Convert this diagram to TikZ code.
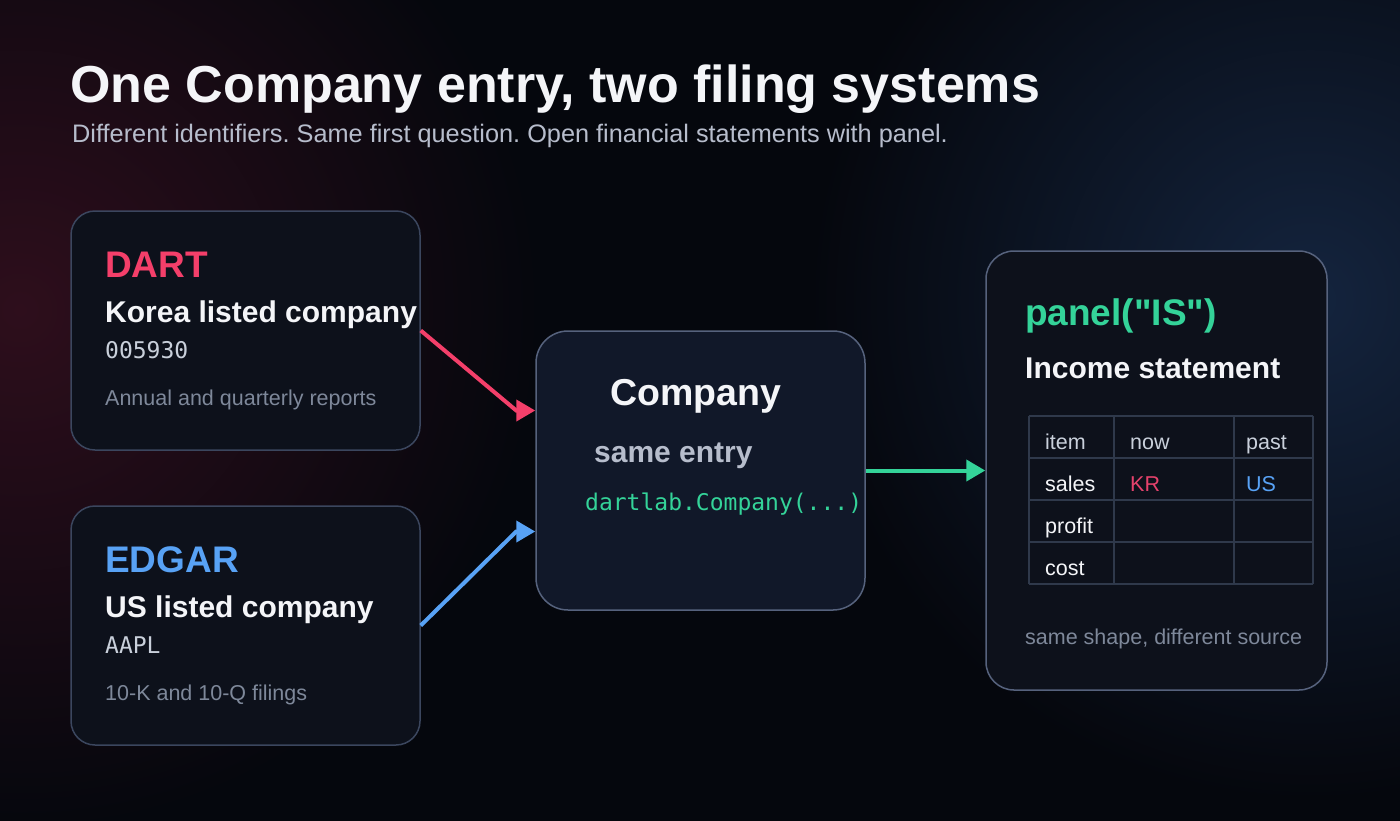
\documentclass[tikz,border=0pt]{standalone}
\usepackage{fontspec}
\setmainfont{Liberation Sans}
\setmonofont{DejaVu Sans Mono}
\usetikzlibrary{arrows.meta,positioning}

\definecolor{bgdark}{HTML}{05070D}
\definecolor{glowred}{HTML}{2E0E1C}
\definecolor{glowblue}{HTML}{14243E}
\definecolor{cardfill}{HTML}{0D111B}
\definecolor{hubfill}{HTML}{111829}
\definecolor{cardline}{HTML}{3B465E}
\definecolor{hubline}{HTML}{56627D}
\definecolor{gridc}{HTML}{2F394B}
\definecolor{dartc}{HTML}{F43F6A}
\definecolor{krc}{HTML}{E5426C}
\definecolor{edgarc}{HTML}{58A2F5}
\definecolor{codec}{HTML}{34D399}
\definecolor{headc}{HTML}{F4F5F8}
\definecolor{subc}{HTML}{B7BDCC}
\definecolor{idc}{HTML}{C9D0DB}
\definecolor{mutedc}{HTML}{7E889A}

\newcommand\pxsize[1]{\fontsize{#1}{#1}\selectfont}

\tikzset{
  card/.style={draw=cardline, line width=1.5pt, fill=cardfill, rounded corners=24pt,
    minimum width=349pt, minimum height=239pt, inner sep=0pt},
  hub/.style={draw=hubline, line width=1.5pt, fill=hubfill, rounded corners=32pt,
    minimum width=329pt, minimum height=279pt, inner sep=0pt},
  panelbox/.style={draw=hubline, line width=1.5pt, fill=cardfill, rounded corners=28pt,
    minimum width=341pt, minimum height=439pt, inner sep=0pt},
  txt/.style={anchor=base west, inner sep=0pt},
  tag/.style={txt, font=\pxsize{37}\bfseries},
  kind/.style={txt, font=\pxsize{30}\bfseries, text=headc},
  ident/.style={txt, font=\pxsize{23}\ttfamily, text=idc},
  note/.style={txt, font=\pxsize{21.5}, text=mutedc},
  cell/.style={txt, font=\pxsize{21.5}},
  flow/.style={line width=4pt, -{Triangle[length=19pt,width=21pt]}},
}

\begin{document}
\frenchspacing
\begin{tikzpicture}[x=1pt,y=-1pt]
\useasboundingbox (0,0) rectangle (1400,820);
% backdrop and soft glows
\begin{scope}
\clip (-6,-6) rectangle (1406,826);
\fill[bgdark] (-6,-6) rectangle (1406,826);
\shade[inner color=glowred, outer color=bgdark] (20,310) circle (520);
\shade[inner color=glowblue, outer color=bgdark] (1310,300) circle (500);
\end{scope}

% heading
\node[txt, font=\pxsize{52}\bfseries, text=headc] (title) at (70,102) {One Company entry, two filing systems};
\node[txt, font=\pxsize{25.3}, text=subc] (subtitle) at (72,142) {Different identifiers. Same first question. Open financial statements with panel.};

% source cards
\node[card] (dart) at (245.5,330.5) {};
\node[tag, text=dartc] (dartTag) at (105,277) {DART};
\node[kind] (dartKind) at (105,322) {Korea listed company};
\node[ident] (dartId) at (105,358) {005930};
\node[note] (dartNote) at (105,405) {Annual and quarterly reports};

\node[card] (edgar) at (245.5,625.5) {};
\node[tag, text=edgarc] (edgarTag) at (105,572) {EDGAR};
\node[kind] (edgarKind) at (105,617) {US listed company};
\node[ident] (edgarId) at (105,653) {AAPL};
\node[note] (edgarNote) at (105,700) {10-K and 10-Q filings};

% common entry
\node[hub] (company) at (700.5,470.5) {};
\node[anchor=base, inner sep=0pt, font=\pxsize{37.5}\bfseries, text=headc] (companyName) at (696,405) {Company};
\node[txt, font=\pxsize{30}\bfseries, text=subc] (companySub) at (594,462) {same entry};
\node[txt, font=\pxsize{23}\ttfamily, text=codec] (companyCode) at (585,510) {dartlab.Company(...)};

% result panel
\node[panelbox] (panel) at (1156.5,470.5) {};
\node[txt, font=\pxsize{37}\bfseries, text=codec] (panelCall) at (1025,325) {panel(\textquotedbl IS\textquotedbl)};
\node[kind] (panelKind) at (1025,378) {Income statement};

\foreach \y in {416,458,500,542,584}
  \draw[gridc, line width=2pt] (1029,\y) -- (1313,\y);
\foreach \x in {1029,1114,1234,1313}
  \draw[gridc, line width=2pt] (\x,416) -- (\x,584);

\node[cell, text=idc] (hItem) at (1045,449) {item};
\node[cell, text=idc] (hNow) at (1130,449) {now};
\node[cell, text=idc] (hPast) at (1246,449) {past};
\node[cell, text=headc] (rSales) at (1045,491) {sales};
\node[cell, text=krc] (rSalesKR) at (1130,491) {KR};
\node[cell, text=edgarc] (rSalesUS) at (1246,491) {US};
\node[cell, text=headc] (rProfit) at (1045,533) {profit};
\node[cell, text=headc] (rCost) at (1045,575) {cost};

\node[note] (panelNote) at (1025,644) {same shape, different source};

% connectors
\draw[flow, dartc] (dart.east) -- ([xshift=-19pt,yshift=60pt]company.west) -- ([yshift=60pt]company.west);
\draw[flow, edgarc] (edgar.east) -- ([xshift=-19pt,yshift=-61pt]company.west) -- ([yshift=-61pt]company.west);
\draw[flow, codec] (company.east) -- (panel.west);
\end{tikzpicture}
\end{document}
